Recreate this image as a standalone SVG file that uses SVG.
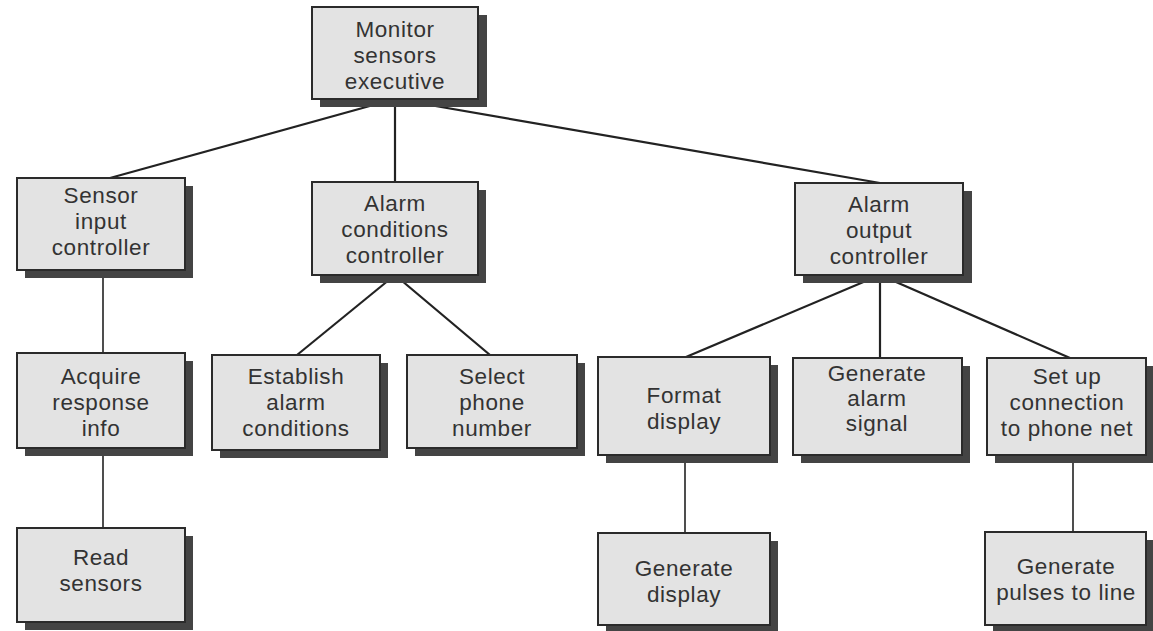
<svg xmlns="http://www.w3.org/2000/svg" width="1153" height="631" viewBox="0 0 1153 631">
  <style>
    .shadow { fill: #444; }
    .box { fill: #e3e3e3; stroke: #2b2b2b; stroke-width: 2; }
    .label { font-family: "Liberation Sans", Arial, sans-serif; font-size: 22.5px; letter-spacing: 0.6px; fill: #333; text-anchor: middle; }
    .link { stroke: #222; stroke-width: 2.2; fill: none; }
    .link.thin { stroke-width: 1.6; }
  </style>
  <rect width="1153" height="631" fill="#fff"/>

  <!-- connectors, drawn first so the boxes cover their ends -->
  <g id="connectors">
    <line class="link" x1="395" y1="99" x2="110" y2="178"/>
    <line class="link" x1="395" y1="99" x2="395" y2="182"/>
    <line class="link" x1="395" y1="99" x2="880" y2="183"/>
    <line class="link thin" x1="103" y1="270" x2="103" y2="353"/>
    <line class="link thin" x1="103" y1="448" x2="103" y2="528"/>
    <line class="link" x1="395" y1="275" x2="297" y2="355"/>
    <line class="link" x1="395" y1="275" x2="490" y2="355"/>
    <line class="link" x1="880" y1="275" x2="686" y2="357"/>
    <line class="link" x1="880" y1="275" x2="880" y2="358"/>
    <line class="link" x1="880" y1="275" x2="1070" y2="358"/>
    <line class="link thin" x1="685" y1="455" x2="685" y2="533"/>
    <line class="link thin" x1="1073" y1="455" x2="1073" y2="532"/>
  </g>

  <g id="monitor-sensors-executive">
    <rect class="shadow" x="320" y="15" width="167" height="92"/>
    <rect class="box" x="312" y="7" width="166" height="92"/>
    <text class="label" x="395" y="37">Monitor</text>
    <text class="label" x="395" y="63">sensors</text>
    <text class="label" x="395" y="89">executive</text>
  </g>

  <g id="sensor-input-controller">
    <rect class="shadow" x="25" y="186" width="168" height="92"/>
    <rect class="box" x="17" y="178" width="168" height="92"/>
    <text class="label" x="101" y="203">Sensor</text>
    <text class="label" x="101" y="229">input</text>
    <text class="label" x="101" y="255">controller</text>
  </g>

  <g id="alarm-conditions-controller">
    <rect class="shadow" x="320" y="190" width="166" height="93"/>
    <rect class="box" x="312" y="182" width="166" height="93"/>
    <text class="label" x="395" y="211">Alarm</text>
    <text class="label" x="395" y="237">conditions</text>
    <text class="label" x="395" y="263">controller</text>
  </g>

  <g id="alarm-output-controller">
    <rect class="shadow" x="803" y="191" width="169" height="92"/>
    <rect class="box" x="795" y="183" width="168" height="92"/>
    <text class="label" x="879" y="212">Alarm</text>
    <text class="label" x="879" y="238">output</text>
    <text class="label" x="879" y="264">controller</text>
  </g>

  <g id="acquire-response-info">
    <rect class="shadow" x="25" y="361" width="168" height="95"/>
    <rect class="box" x="17" y="353" width="168" height="95"/>
    <text class="label" x="101" y="384">Acquire</text>
    <text class="label" x="101" y="410">response</text>
    <text class="label" x="101" y="436">info</text>
  </g>

  <g id="establish-alarm-conditions">
    <rect class="shadow" x="220" y="363" width="168" height="95"/>
    <rect class="box" x="212" y="355" width="168" height="95"/>
    <text class="label" x="296" y="384">Establish</text>
    <text class="label" x="296" y="410">alarm</text>
    <text class="label" x="296" y="436">conditions</text>
  </g>

  <g id="select-phone-number">
    <rect class="shadow" x="415" y="363" width="170" height="93"/>
    <rect class="box" x="407" y="355" width="170" height="93"/>
    <text class="label" x="492" y="384">Select</text>
    <text class="label" x="492" y="410">phone</text>
    <text class="label" x="492" y="436">number</text>
  </g>

  <g id="format-display">
    <rect class="shadow" x="606" y="365" width="172" height="98"/>
    <rect class="box" x="598" y="357" width="172" height="98"/>
    <text class="label" x="684" y="403">Format</text>
    <text class="label" x="684" y="429">display</text>
  </g>

  <g id="generate-alarm-signal">
    <rect class="shadow" x="801" y="366" width="169" height="97"/>
    <rect class="box" x="793" y="358" width="169" height="97"/>
    <text class="label" x="877" y="381">Generate</text>
    <text class="label" x="877" y="406">alarm</text>
    <text class="label" x="877" y="431">signal</text>
  </g>

  <g id="set-up-connection">
    <rect class="shadow" x="995" y="366" width="158" height="97"/>
    <rect class="box" x="987" y="358" width="159" height="97"/>
    <text class="label" x="1067" y="384">Set up</text>
    <text class="label" x="1067" y="410">connection</text>
    <text class="label" x="1067" y="436">to phone net</text>
  </g>

  <g id="read-sensors">
    <rect class="shadow" x="25" y="536" width="168" height="94"/>
    <rect class="box" x="17" y="528" width="168" height="94"/>
    <text class="label" x="101" y="565">Read</text>
    <text class="label" x="101" y="591">sensors</text>
  </g>

  <g id="generate-display">
    <rect class="shadow" x="606" y="541" width="172" height="92"/>
    <rect class="box" x="598" y="533" width="172" height="92"/>
    <text class="label" x="684" y="576">Generate</text>
    <text class="label" x="684" y="602">display</text>
  </g>

  <g id="generate-pulses">
    <rect class="shadow" x="993" y="540" width="160" height="93"/>
    <rect class="box" x="985" y="532" width="161" height="93"/>
    <text class="label" x="1066" y="574">Generate</text>
    <text class="label" x="1066" y="600">pulses to line</text>
  </g>
</svg>
